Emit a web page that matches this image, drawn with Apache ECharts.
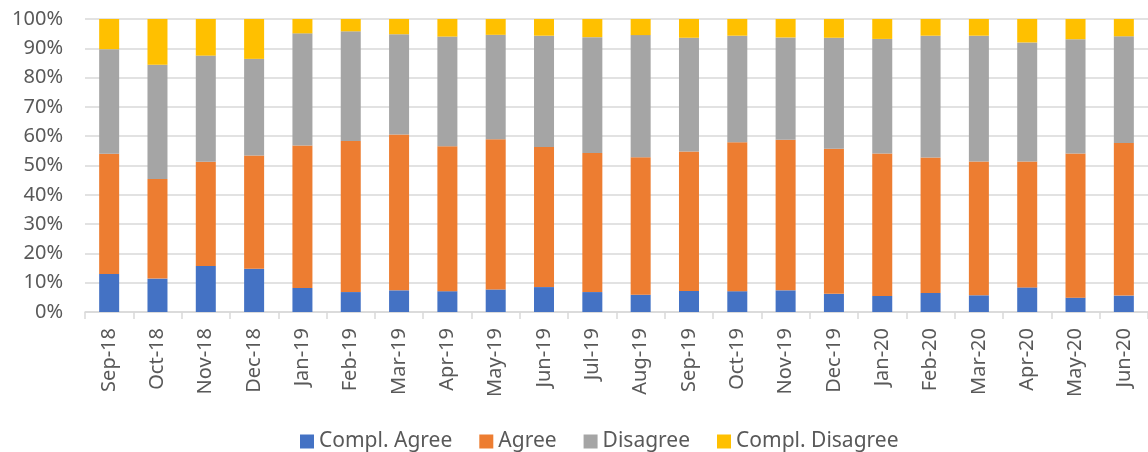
<!DOCTYPE html>
<html>
<head>
<meta charset="utf-8">
<script src="https://cdn.jsdelivr.net/npm/echarts@6/dist/echarts.min.js"></script>
<style>
  html, body { margin: 0; padding: 0; background: #fff; }
  #chart { width: 1148px; height: 452px; }
</style>
</head>
<body>
<div id="chart"></div>
<script>
var months = ['Sep-18', 'Oct-18', 'Nov-18', 'Dec-18', 'Jan-19', 'Feb-19', 'Mar-19', 'Apr-19',
  'May-19', 'Jun-19', 'Jul-19', 'Aug-19', 'Sep-19', 'Oct-19', 'Nov-19', 'Dec-19',
  'Jan-20', 'Feb-20', 'Mar-20', 'Apr-20', 'May-20', 'Jun-20'];

// shares in percent
var complAgree = [13.0, 11.4, 15.7, 14.8, 8.2, 6.8, 7.4, 7.1, 7.7, 8.5, 6.8, 5.9, 7.2, 7.1, 7.4, 6.2, 5.5, 6.5, 5.7, 8.4, 4.9, 5.6];
var agree = [41.0, 34.0, 35.6, 38.6, 48.6, 51.6, 53.2, 49.5, 51.3, 47.8, 47.5, 46.9, 47.6, 50.8, 51.4, 49.5, 48.6, 46.2, 45.7, 43.0, 49.2, 52.1];
var disagree = [35.7, 39.0, 36.2, 33.0, 38.3, 37.4, 34.2, 37.4, 35.6, 38.0, 39.5, 41.7, 38.8, 36.4, 34.9, 37.9, 39.1, 41.6, 42.9, 40.6, 39.0, 36.4];
var complDisagree = [10.3, 15.6, 12.5, 13.6, 4.9, 4.2, 5.2, 6.0, 5.4, 5.7, 6.2, 5.5, 6.4, 5.7, 6.3, 6.4, 6.8, 5.7, 5.7, 8.0, 6.9, 5.9];

var seriesNames = ['Compl. Agree', 'Agree', 'Disagree', 'Compl. Disagree'];
var colors = ['#4472C4', '#ED7D31', '#A5A5A5', '#FFC000'];

var chart = echarts.init(document.getElementById('chart'));

var font = 'Noto Sans';
var dataSets = [complAgree, agree, disagree, complDisagree];
var series = dataSets.map(function (d, i) {
  return {
    name: seriesNames[i],
    type: 'bar',
    stack: 'total',
    barWidth: 20,
    data: d,
    itemStyle: { color: colors[i] }
  };
});

chart.setOption({
  animation: false,
  color: colors,
  grid: { left: 85, right: -7, top: 19, bottom: 140 },
  legend: {
    bottom: -5,
    left: 295,
    icon: 'rect',
    itemWidth: 14,
    itemHeight: 14,
    itemGap: 27,
    textStyle: { fontFamily: font, fontSize: 21, color: '#595959' },
    data: seriesNames
  },
  xAxis: {
    type: 'category',
    data: months,
    axisLine: { lineStyle: { color: '#d9d9d9', width: 1.5 } },
    axisTick: { show: true, length: 7, lineStyle: { color: '#d9d9d9', width: 1.5 } },
    axisLabel: { rotate: 90, fontFamily: font, fontSize: 20, color: '#595959', margin: 16 }
  },
  yAxis: {
    type: 'value',
    min: 0,
    max: 100,
    interval: 10,
    axisLine: { show: false },
    axisTick: { show: false },
    splitLine: { lineStyle: { color: '#d9d9d9', width: 1.5 } },
    axisLabel: {
      fontFamily: font, fontSize: 20, color: '#595959', margin: 22,
      formatter: function (v) { return v + '%'; }
    }
  },
  series: series
});
</script>
</body>
</html>
